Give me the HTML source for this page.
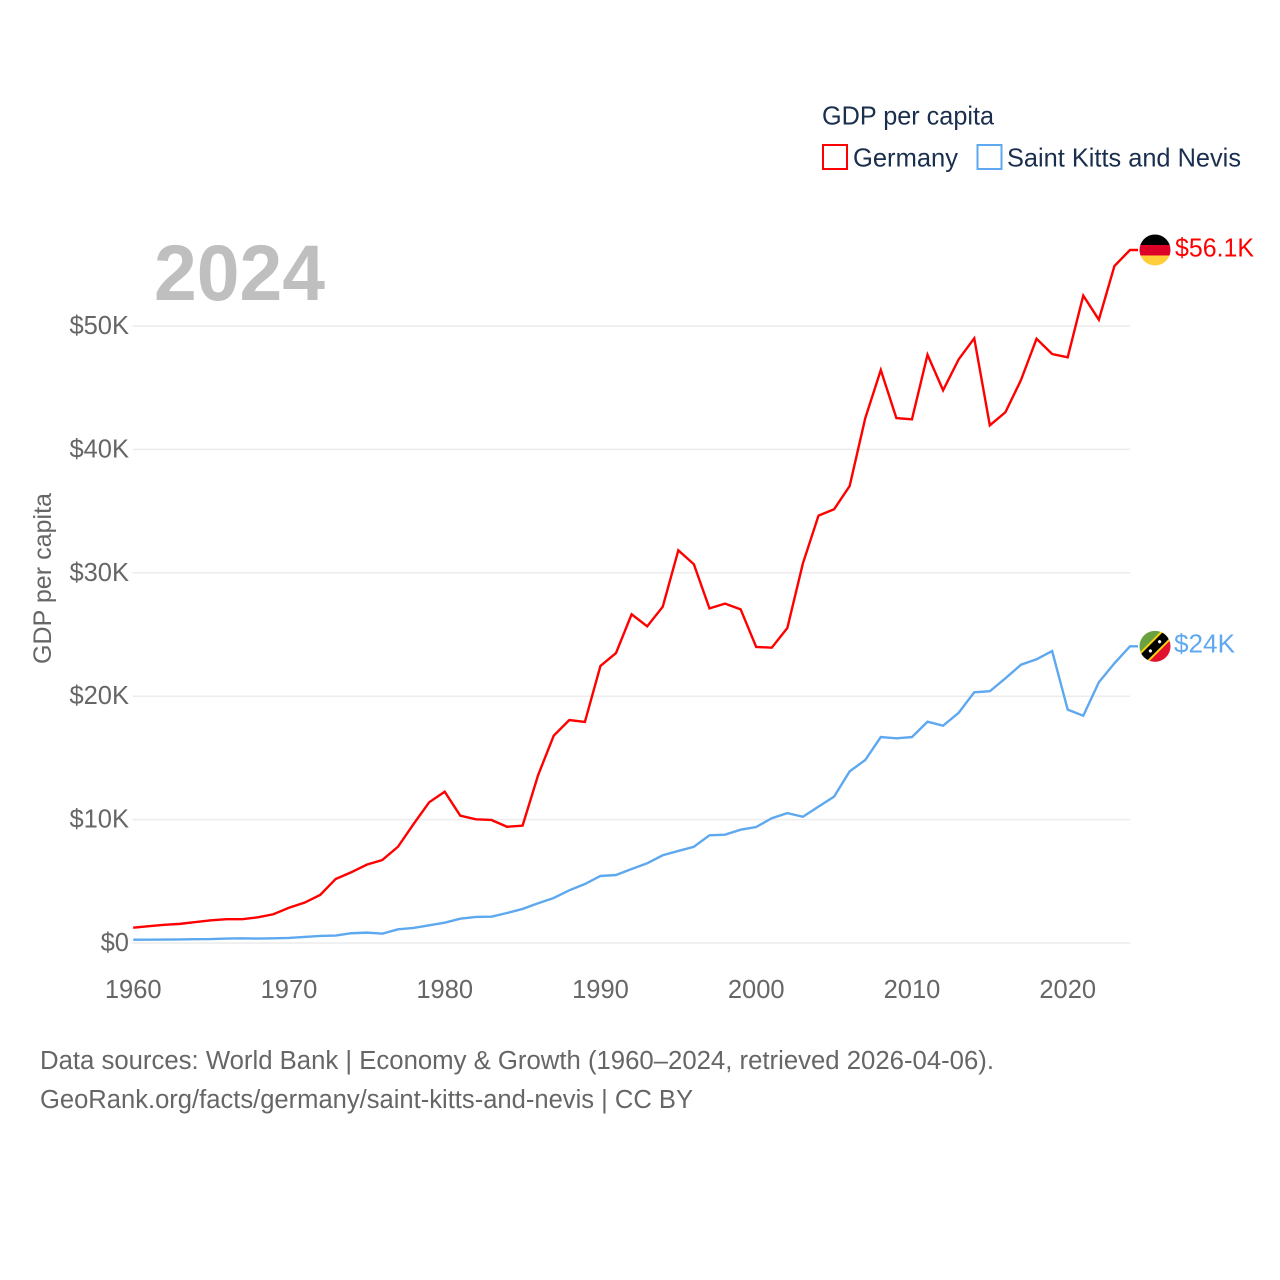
<!DOCTYPE html>
<html lang="en">
<head>
<meta charset="utf-8">
<title>GDP per capita: Germany and Saint Kitts and Nevis</title>
<style>
html,body{margin:0;padding:0;background:#fff;}
svg{display:block;font-family:"Liberation Sans",sans-serif;}
</style>
</head>
<body>
<svg id="chart" width="1280" height="1280" viewBox="0 0 1280 1280" xmlns="http://www.w3.org/2000/svg">
  <defs>
    <clipPath id="flag-clip-de"><circle cx="0" cy="0" r="15.5"/></clipPath>
    <clipPath id="flag-clip-kn"><circle cx="0" cy="0" r="15.5"/></clipPath>
  </defs>
  <rect width="1280" height="1280" fill="#ffffff"/>

  <g id="grid"></g>
  <g id="y-ticks"></g>
  <g id="x-ticks"></g>

  <text x="154" y="300" font-size="79" font-weight="700" fill="#bfbfbf" textLength="171" lengthAdjust="spacingAndGlyphs">2024</text>

  <text transform="translate(51,664) rotate(-90)" font-size="25" fill="#666666" textLength="171" lengthAdjust="spacingAndGlyphs">GDP per capita</text>

  <g id="series"></g>

  <g id="flag-germany">
    <g clip-path="url(#flag-clip-de)">
      <rect x="-16" y="-16" width="32" height="11" fill="#000000"/>
      <rect x="-16" y="-5" width="32" height="10.5" fill="#dd0027"/>
      <rect x="-16" y="5.5" width="32" height="11" fill="#ffce3a"/>
    </g>
  </g>
  <g id="flag-kitts">
    <g clip-path="url(#flag-clip-kn)">
      <g transform="rotate(-45)">
        <rect x="-24" y="-24" width="48" height="24" fill="#6aa23f"/>
        <rect x="-24" y="0" width="48" height="24" fill="#e0122e"/>
        <rect x="-24" y="-6.5" width="48" height="13" fill="#fcd116"/>
        <rect x="-24" y="-4.5" width="48" height="9" fill="#000000"/>
        <circle cx="-6.5" cy="0" r="1.6" fill="#ffffff"/>
        <circle cx="6.5" cy="0" r="1.6" fill="#ffffff"/>
      </g>
    </g>
  </g>
  <text id="label-germany" x="1175" font-size="25.5" fill="#ff0000" textLength="79" lengthAdjust="spacingAndGlyphs"></text>
  <text id="label-kitts" x="1174" font-size="25.5" fill="#5ea8ef" textLength="61" lengthAdjust="spacingAndGlyphs"></text>

  <g>
    <text x="822" y="124.5" font-size="26" fill="#1a2f4e" textLength="172" lengthAdjust="spacingAndGlyphs">GDP per capita</text>
    <g>
      <rect x="823" y="145" width="24" height="24" fill="none" stroke="#ff0000" stroke-width="2"/>
      <text x="853" y="166.5" font-size="26" fill="#1a2f4e" textLength="105" lengthAdjust="spacingAndGlyphs">Germany</text>
    </g>
    <g>
      <rect x="977.5" y="145" width="24" height="24" fill="none" stroke="#5ea8ef" stroke-width="2"/>
      <text x="1007" y="166.5" font-size="26" fill="#1a2f4e" textLength="234" lengthAdjust="spacingAndGlyphs">Saint Kitts and Nevis</text>
    </g>
  </g>

  <g>
    <text x="40" y="1069" font-size="25.5" fill="#666666" textLength="954" lengthAdjust="spacingAndGlyphs">Data sources: World Bank | Economy &amp; Growth (1960–2024, retrieved 2026-04-06).</text>
    <text x="40" y="1108" font-size="25.5" fill="#666666" textLength="653" lengthAdjust="spacingAndGlyphs">GeoRank.org/facts/germany/saint-kitts-and-nevis | CC BY</text>
  </g>
</svg>

<script>
const startYear = 1960;
const germanyValues = [1.24,1.36,1.47,1.55,1.70,1.84,1.93,1.93,2.08,2.33,2.86,3.27,3.89,5.19,5.73,6.35,6.73,7.80,9.64,11.40,12.26,10.32,10.02,9.97,9.42,9.51,13.61,16.80,18.07,17.91,22.45,23.50,26.64,25.66,27.25,31.82,30.69,27.12,27.50,27.04,23.99,23.93,25.53,30.77,34.63,35.15,37.03,42.52,46.43,42.54,42.44,47.67,44.79,47.30,49.00,41.95,43.01,45.62,48.97,47.73,47.46,52.46,50.51,54.86,56.16];
const kittsValues = [0.27,0.27,0.28,0.29,0.31,0.32,0.36,0.38,0.36,0.38,0.41,0.49,0.57,0.60,0.79,0.84,0.76,1.11,1.22,1.43,1.65,1.97,2.11,2.13,2.43,2.76,3.22,3.65,4.27,4.78,5.43,5.51,6.00,6.46,7.11,7.46,7.80,8.73,8.78,9.18,9.40,10.11,10.53,10.23,11.05,11.86,13.91,14.83,16.69,16.59,16.69,17.93,17.61,18.66,20.32,20.40,21.45,22.55,22.99,23.66,18.91,18.42,21.13,22.67,24.04];
const yTickValues = [0,10,20,30,40,50];
const yTickLabels = ["$0","$10K","$20K","$30K","$40K","$50K"];
const xTickYears = [1960,1970,1980,1990,2000,2010,2020];
const endLabels = ["$56.1K","$24K"];

const SVG_NS = "http://www.w3.org/2000/svg";
function xScale(year){ return 133.2 + (year - 1960) * 15.575; }
function yScale(value){ return 943 - value * 12.34; }
function make(tag, attrs, parent){
  const el = document.createElementNS(SVG_NS, tag);
  for (const k in attrs) el.setAttribute(k, attrs[k]);
  parent.appendChild(el);
  return el;
}
const grid = document.getElementById("grid");
const yTicks = document.getElementById("y-ticks");
const xTicks = document.getElementById("x-ticks");
const series = document.getElementById("series");

yTickValues.forEach(function(v, i){
  const line = make("line", {x1:132.5, x2:1130, y1:yScale(v), y2:yScale(v), stroke:"#ececec", "stroke-width":1.5}, grid);
  
  
  const t = make("text", {x:129, y:yScale(v)+8, "text-anchor":"end", "font-size":25.5, fill:"#666666"}, yTicks);
  t.textContent = yTickLabels[i];
  
  
});
xTickYears.forEach(function(yr){
  const t = make("text", {x:xScale(yr), y:998, "text-anchor":"middle", "font-size":25.5, fill:"#666666"}, xTicks);
  t.textContent = String(yr);
  
  
});
function pathFor(values){
  return values.map(function(v, i){
    return (i ? "L" : "M") + xScale(startYear + i).toFixed(2) + " " + yScale(v).toFixed(2);
  }).join(" ");
}
function drawSeries(values, color){
  const last = values[values.length - 1];
  const d = pathFor(values) + " L" + (xScale(startYear + values.length - 1) + 8).toFixed(2) + " " + yScale(last).toFixed(2);
  return make("path", {d:d, fill:"none", stroke:color, "stroke-width":2.4, "stroke-linejoin":"miter"}, series);
}
const lineGermany = drawSeries(germanyValues, "#ff0000");


const lineKitts = drawSeries(kittsValues, "#5ea8ef");



const yG = yScale(germanyValues[germanyValues.length - 1]);
const yK = yScale(kittsValues[kittsValues.length - 1]);
document.getElementById("flag-germany").setAttribute("transform", "translate(1155," + yG + ")");
document.getElementById("flag-kitts").setAttribute("transform", "translate(1155," + yK + ")");
const labelG = document.getElementById("label-germany");
labelG.setAttribute("y", yG + 6.5);
labelG.textContent = endLabels[0];
const labelK = document.getElementById("label-kitts");
labelK.setAttribute("y", yK + 6);
labelK.textContent = endLabels[1];
</script>
</body>
</html>
